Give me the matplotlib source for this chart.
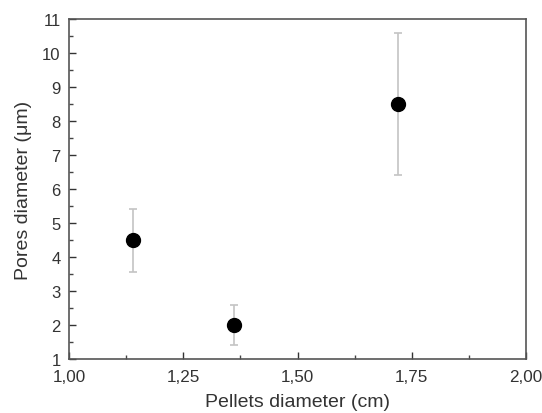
import matplotlib
matplotlib.use("Agg")
import matplotlib.pyplot as plt
from matplotlib.ticker import MultipleLocator, FuncFormatter

plt.rcParams['font.family'] = ['Liberation Sans', 'DejaVu Sans']

pellet_diam = [1.14, 1.36, 1.72]
pore_diam = [4.5, 2.0, 8.5]
err_low = [0.95, 0.6, 2.1]
err_high = [0.9, 0.6, 2.1]

fig = plt.figure(figsize=(5.42, 4.14), dpi=100)
ax = fig.add_axes([69/542, 1-360/414, 457/542, 340/414])

ax.errorbar(pellet_diam, pore_diam, yerr=[err_low, err_high], fmt='o',
            color='black', markersize=10, ecolor='#c4c4c4', elinewidth=1.2,
            capsize=3, capthick=1.2)

ax.set_xlim(1.0, 2.0)
ax.set_ylim(1, 11)
ax.xaxis.set_major_locator(MultipleLocator(0.25))
ax.xaxis.set_minor_locator(MultipleLocator(0.125))
ax.yaxis.set_major_locator(MultipleLocator(1))
ax.yaxis.set_minor_locator(MultipleLocator(0.5))
ax.xaxis.set_major_formatter(FuncFormatter(lambda v, p: f"{v:.2f}".replace('.', ',')))
ax.tick_params(which='both', direction='in', top=False, right=False, color='#444444')
ax.tick_params(which='major', length=5, width=1, colors='#333333')
ax.tick_params(which='minor', length=3, width=1)
ax.tick_params(axis='x', which='major', pad=7, labelsize=12.3)
ax.tick_params(axis='y', which='major', pad=6, labelsize=12)
for s in ax.spines.values():
    s.set_color('#555555')
    s.set_linewidth(1.2)

ax.set_xlabel('Pellets diameter (cm)', fontsize=14, color='#333333', labelpad=7)
ax.set_ylabel('Pores diameter (\u03bcm)', fontsize=14, color='#333333', labelpad=7)

fig.savefig('out.png', dpi=100)
